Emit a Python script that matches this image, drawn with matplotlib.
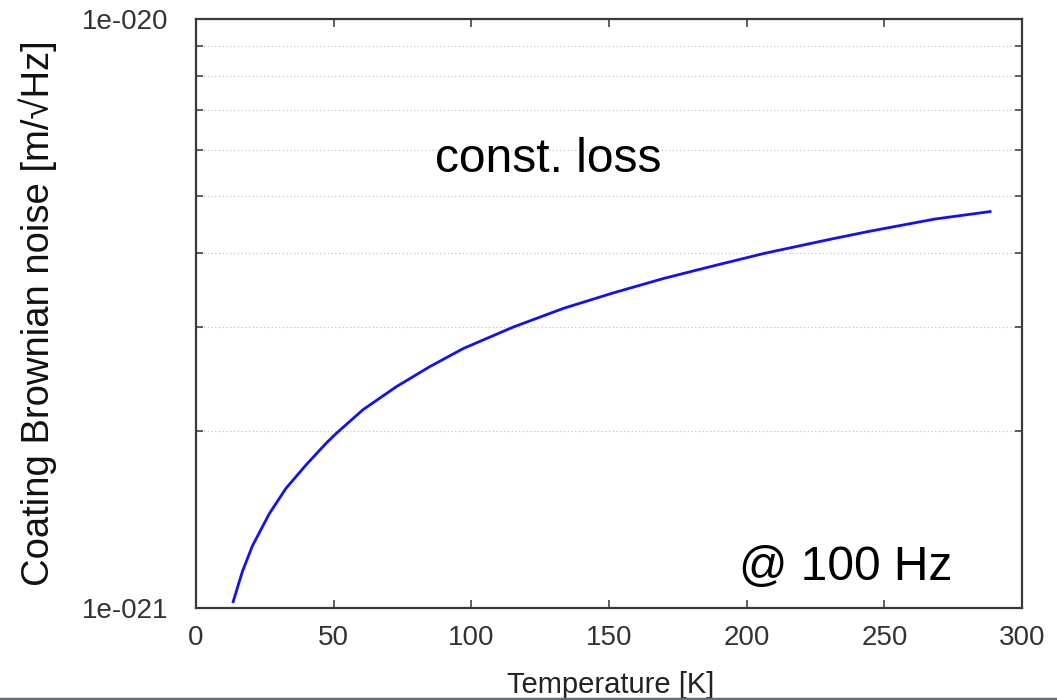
import numpy as np
import matplotlib
matplotlib.use("Agg")
import matplotlib.pyplot as plt
import matplotlib.ticker as mticker
from matplotlib.lines import Line2D

plt.rcParams['font.family'] = ['Liberation Sans', 'DejaVu Sans']

# values
temperature = [13.5, 16.9, 20.5, 26.6, 32.7, 40.0, 47.3, 51.0, 60.6, 72.8,
               84.9, 97.1, 115.3, 133.5, 151.8, 170.0, 188.2, 206.4, 230.7,
               244.5, 268.4, 288.4]
noise = [1.025e-21, 1.155e-21, 1.275e-21, 1.445e-21, 1.597e-21, 1.75e-21,
         1.905e-21, 1.98e-21, 2.17e-21, 2.376e-21, 2.569e-21, 2.758e-21,
         3.0e-21, 3.227e-21, 3.43e-21, 3.628e-21, 3.812e-21, 4.0e-21,
         4.23e-21, 4.36e-21, 4.575e-21, 4.71e-21]

x_ticks = [0, 50, 100, 150, 200, 250, 300]
y_major = [1e-21, 1e-20]
y_major_labels = ['1e-021', '1e-020']

fig = plt.figure(figsize=(10.57, 7.0), dpi=100)
ax = fig.add_axes([0.1854, 0.1314, 0.7815, 0.8415])

ax.plot(temperature, noise, color='#1010ff', linewidth=2.0,
        solid_joinstyle='round')

ax.set_yscale('log')
ax.set_xlim(0, 300)
ax.set_ylim(1e-21, 1e-20)

ax.xaxis.set_major_locator(mticker.FixedLocator(x_ticks))
ax.yaxis.set_major_locator(mticker.FixedLocator(y_major))
ax.yaxis.set_major_formatter(mticker.FixedFormatter(y_major_labels))
ax.yaxis.set_minor_locator(mticker.LogLocator(base=10, subs=np.arange(2, 10)))
ax.yaxis.set_minor_formatter(mticker.NullFormatter())
ax.xaxis.set_minor_locator(mticker.NullLocator())

ax.grid(True, which='minor', axis='y', color='#c4c4c4', linestyle=(0, (1, 2)),
        linewidth=0.9)

ax.tick_params(axis='both', which='both', direction='in', top=True, right=True,
               color='#444444', width=1.2)
ax.tick_params(axis='x', which='major', length=6, labelsize=20, pad=12,
               labelcolor='#333333')
ax.tick_params(axis='y', which='major', length=0, labelsize=20, pad=20,
               labelcolor='#333333')
ax.tick_params(axis='y', which='minor', length=5)

for sp in ax.spines.values():
    sp.set_color('#3a3a3a')
    sp.set_linewidth(1.6)

ax.set_xlabel('Temperature [K]', fontsize=21, color='#222222', va='baseline')
ax.xaxis.set_label_coords(0.502, -0.1443)
ax.set_ylabel('Coating Brownian noise [m/\u221aHz]', fontsize=27.5,
              color='#111111', va='center')
ax.yaxis.set_label_coords(-0.191, 0.5)

ax.text(0.426, 0.740, 'const. loss', transform=ax.transAxes, fontsize=34.5,
        ha='center', va='baseline', color='black')
ax.text(0.787, 0.0475, '@ 100 Hz', transform=ax.transAxes, fontsize=34.5,
        ha='center', va='baseline', color='black')

# thin border strip along the bottom edge of the slide
fig.add_artist(Line2D([0, 1], [0.002, 0.002], transform=fig.transFigure,
                      color='#5a7184', linewidth=2.5))

fig.savefig('out.png', dpi=100)
